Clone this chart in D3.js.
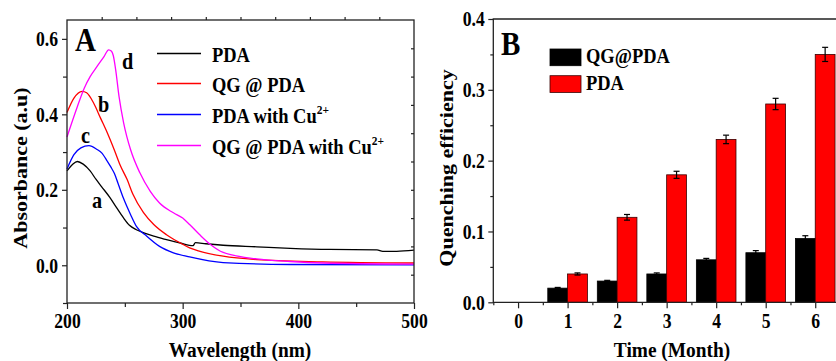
<!DOCTYPE html>
<html>
<head>
<meta charset="utf-8">
<script src="https://cdn.jsdelivr.net/npm/d3@7"></script>
<style>
  body { margin: 0; background: #fff; }
  svg { display: block; }
</style>
</head>
<body>
<div id="chart"></div>
<script>
// ---- panel A data: [wavelength nm, absorbance]
const pdaSpec = [[200,0.250],[205,0.268],[209,0.275],[214,0.268],[220,0.250],[225,0.228],[230,0.208],[237,0.180],[243,0.152],[249,0.125],[254,0.106],[260,0.094],[267,0.085],[275,0.077],[286,0.068],[298,0.059],[309,0.052],[311,0.060],[320,0.057],[335,0.053],[364,0.049],[393,0.045],[427,0.042],[468,0.041],[473,0.037],[485,0.037],[500,0.040]];
const qgPdaSpec = [[200,0.405],[206,0.443],[213,0.461],[217,0.457],[223,0.430],[229,0.390],[235,0.350],[241,0.305],[246,0.265],[252,0.227],[257,0.188],[266,0.140],[275,0.108],[286,0.081],[298,0.059],[306,0.046],[315,0.037],[335,0.024],[364,0.015],[421,0.009],[500,0.006]];
const pdaCuSpec = [[200,0.255],[206,0.293],[212,0.311],[219,0.317],[226,0.307],[230,0.298],[235,0.275],[238,0.260],[241,0.243],[244,0.218],[249,0.176],[255,0.134],[260,0.103],[269,0.077],[280,0.050],[292,0.033],[306,0.022],[335,0.007],[393,0.002],[500,0.001]];
const qgPdaCuSpec = [[200,0.340],[209,0.421],[215,0.470],[220,0.500],[226,0.527],[232,0.553],[236,0.571],[238.5,0.567],[240,0.556],[242,0.520],[245,0.447],[249,0.377],[255,0.306],[263,0.245],[272,0.196],[280,0.165],[292,0.139],[300,0.125],[306,0.108],[315,0.080],[324,0.055],[335,0.034],[364,0.017],[393,0.010],[421,0.006],[500,0.003]];

const specNames = ["PDA", "QG @ PDA", "PDA with Cu", "QG @ PDA with Cu"];
const specSup = ["", "", "2+", "2+"];
const specLetters = ["a", "b", "c", "d"];
const specColors = ["#000000", "#ff0000", "#0000ff", "#ff00ff"];

// ---- panel B data
const months = [0, 1, 2, 3, 4, 5, 6];
const qgPdaEff = [0, 0.02, 0.03, 0.04, 0.06, 0.07, 0.09];
const qgPdaErr = [0, 0.001, 0.001, 0.0015, 0.002, 0.003, 0.004];
const pdaEff = [0, 0.04, 0.12, 0.18, 0.23, 0.28, 0.35];
const pdaErr = [0, 0.0015, 0.004, 0.005, 0.006, 0.008, 0.010];
const barNames = ["QG@PDA", "PDA"];
const barColors = ["#000000", "#ff0000"];

const SX = 0.88;   // the source picture is squeezed horizontally
const FONT = '"Liberation Serif", "Times New Roman", Tinos, serif';

const svg = d3.select("#chart").append("svg")
  .attr("width", 836).attr("height", 361)
  .attr("font-family", FONT);

function txt(g, x, y, s, size, anchor, rot) {
  return g.append("text")
    .attr("transform", "translate(" + x + "," + y + ") scale(" + SX + ",1)" + (rot ? " rotate(-90)" : ""))
    .attr("text-anchor", anchor || "start")
    .style("font-family", FONT)
    .style("font-weight", "bold")
    .style("font-size", size + "px")
    .attr("fill", "#000")
    .text(s);
}

function styleAxis(g) {
  g.attr("font-family", FONT);
  g.select(".domain").remove();
  g.selectAll("line").attr("stroke", "#222").attr("stroke-width", 1.2);
  g.selectAll("text")
    .style("font-family", FONT)
    .style("font-weight", "bold")
    .style("font-size", "20px")
    .attr("fill", "#000");
}

// ================= Panel A =================
const xA = d3.scaleLinear().domain([200, 500]).range([67, 414]);
const yA = d3.scaleLinear().domain([-0.1, 0.65]).range([303, 20]);
const gA = svg.append("g");

// ticks
gA.append("g").attr("transform", "translate(67,0)")
  .call(d3.axisLeft(yA).tickValues([-0.1, 0.1, 0.3, 0.5]).tickSize(4).tickFormat(""))
  .call(styleAxis);
gA.append("g").attr("transform", "translate(67,0)")
  .call(d3.axisLeft(yA).tickValues([0, 0.2, 0.4, 0.6]).tickSize(5).tickFormat(d3.format(".1f")))
  .call(styleAxis)
  .call(g => g.selectAll("text").attr("x", -9 / SX).attr("dy", "0.34em").attr("transform", "scale(" + SX + ",1)"));
gA.append("g").attr("transform", "translate(0,303)")
  .call(d3.axisBottom(xA).tickValues([250, 350, 450]).tickSize(4).tickFormat(""))
  .call(styleAxis);
gA.append("g").attr("transform", "translate(0,303)")
  .call(d3.axisBottom(xA).tickValues([200, 300, 400, 500]).tickSize(6).tickFormat(d3.format("d")))
  .call(styleAxis)
  .call(g => g.selectAll("text").attr("y", 11).attr("dy", "0.71em").attr("transform", "scale(" + SX + ",1)"));
gA.append("g").attr("transform", "translate(0,20)")
  .call(d3.axisTop(xA).tickValues(d3.range(230, 500, 30)).tickSize(3).tickFormat(""))
  .call(styleAxis);
gA.append("g").attr("transform", "translate(414,0)")
  .call(d3.axisLeft(yA).tickValues(d3.range(1, 10).map(k => -0.1 + k * 0.075)).tickSize(3).tickFormat(""))
  .call(styleAxis);

// curves
const lineA = d3.line().x(d => xA(d[0])).y(d => yA(d[1])).curve(d3.curveMonotoneX);
const specs = [pdaSpec, qgPdaSpec, pdaCuSpec, qgPdaCuSpec];
gA.selectAll(".spec").data(specs).enter().append("path")
  .attr("class", "spec")
  .attr("fill", "none")
  .attr("stroke", (d, i) => specColors[i])
  .attr("stroke-width", 1.3)
  .attr("d", lineA);

// frame
gA.append("rect").attr("x", 67).attr("y", 20).attr("width", 347).attr("height", 283)
  .attr("fill", "none").attr("stroke", "#222").attr("stroke-width", 1.3);

// curve letters
const letterPos = [[92, 208], [98, 112], [81, 143], [122, 69]];
letterPos.forEach((p, i) => txt(gA, p[0], p[1], specLetters[i], 23));

// legend
const legA = [53.5, 83.5, 114.5, 145.5];
specNames.forEach((n, i) => {
  gA.append("line").attr("x1", 157).attr("x2", 201).attr("y1", legA[i]).attr("y2", legA[i])
    .attr("stroke", specColors[i]).attr("stroke-width", 1.5);
  const t = txt(gA, 212, legA[i] + 8, n, 21);
  if (specSup[i]) {
    t.append("tspan").attr("dy", -9).style("font-size", "13px").text(specSup[i]);
  }
});

txt(gA, 75, 51, "A", 33);
txt(gA, 240, 357, "Wavelength (nm)", 22, "middle");
txt(gA, 27, 168, "Absorbance (a.u)", 22, "middle", true);

// ================= Panel B =================
const xB = d3.scaleLinear().domain([-0.5, 6.5]).range([493.3, 840]);
const yB = d3.scaleLinear().domain([0, 0.4]).range([302.3, 19]);
const gB = svg.append("g");

gB.append("g").attr("transform", "translate(493.3,0)")
  .call(d3.axisLeft(yB).tickValues([0.05, 0.15, 0.25, 0.35]).tickSize(3).tickFormat(""))
  .call(styleAxis);
gB.append("g").attr("transform", "translate(493.3,0)")
  .call(d3.axisLeft(yB).tickValues([0, 0.1, 0.2, 0.3, 0.4]).tickSize(5).tickFormat(d3.format(".1f")))
  .call(styleAxis)
  .call(g => g.selectAll("text").attr("x", -8.5 / SX).attr("dy", "0.34em").attr("transform", "scale(" + SX + ",1)"));
gB.append("g").attr("transform", "translate(0,302.3)")
  .call(d3.axisBottom(xB).tickValues(months.map(m => m - 0.5).concat([6.5])).tickSize(3).tickFormat(""))
  .call(styleAxis);
gB.append("g").attr("transform", "translate(0,302.3)")
  .call(d3.axisBottom(xB).tickValues(months).tickSize(6).tickFormat(d3.format("d")))
  .call(styleAxis)
  .call(g => g.selectAll("text").attr("y", 11.5).attr("dy", "0.71em").attr("transform", "scale(" + SX + ",1)"));

// bars
const bw = 0.4;
const barSeries = [
  { vals: qgPdaEff, errs: qgPdaErr, off: -bw },
  { vals: pdaEff, errs: pdaErr, off: 0 }
];
barSeries.forEach((s, si) => {
  const g = gB.append("g");
  g.selectAll("rect").data(months).enter().append("rect")
    .attr("x", m => xB(m + s.off))
    .attr("width", xB(bw) - xB(0))
    .attr("y", m => yB(s.vals[m]))
    .attr("height", m => yB(0) - yB(s.vals[m]))
    .attr("fill", barColors[si])
    .attr("stroke", si ? "#3a0000" : "#000")
    .attr("stroke-width", 0.8);
  const eb = g.selectAll(".err").data(months.filter(m => s.errs[m] > 0)).enter().append("g").attr("class", "err");
  const cx = m => xB(m + s.off + bw / 2);
  eb.append("line").attr("x1", cx).attr("x2", cx)
    .attr("y1", m => yB(s.vals[m] + s.errs[m])).attr("y2", m => yB(s.vals[m] - s.errs[m]))
    .attr("stroke", "#000").attr("stroke-width", 1.2);
  [1, -1].forEach(sg => {
    eb.append("line").attr("x1", m => cx(m) - 3).attr("x2", m => cx(m) + 3)
      .attr("y1", m => yB(s.vals[m] + sg * s.errs[m])).attr("y2", m => yB(s.vals[m] + sg * s.errs[m]))
      .attr("stroke", "#000").attr("stroke-width", 1.2);
  });
});

// frame (right side is outside the picture)
gB.append("path").attr("d", "M836,19H493.3V302.3H836")
  .attr("fill", "none").attr("stroke", "#222").attr("stroke-width", 1.3);

// legend
const legB = [49, 75.7];
barNames.forEach((n, i) => {
  gB.append("rect").attr("x", 550).attr("y", legB[i]).attr("width", 31).attr("height", 16.7)
    .attr("fill", barColors[i]).attr("stroke", i ? "#3a0000" : "#000").attr("stroke-width", 0.8);
  txt(gB, 586, legB[i] + 14, n, 21);
});

txt(gB, 501, 55, "B", 33);
txt(gB, 672, 357, "Time (Month)", 22, "middle");
txt(gB, 453, 168, "Quenching efficiency", 22, "middle", true);
</script>
</body>
</html>
